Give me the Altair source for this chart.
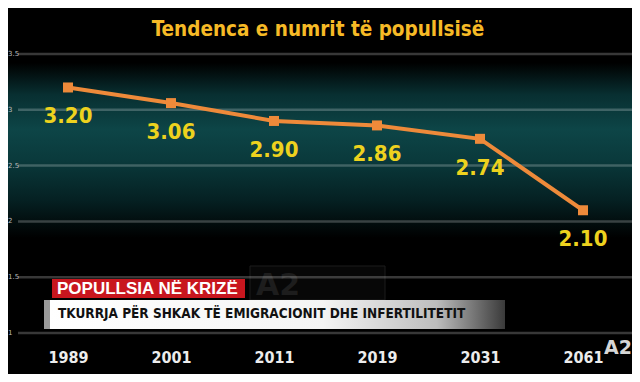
import altair as alt
import pandas as pd

years = ["1989", "2001", "2011", "2019", "2031", "2061"]
values = [3.20, 3.06, 2.90, 2.86, 2.74, 2.10]
grid_values = [1.0, 1.5, 2.0, 2.5, 3.0, 3.5]
title_text = "Tendenca e numrit të popullsisë"
tag_text = "POPULLSIA NË KRIZË"
banner_text = "TKURRJA PËR SHKAK TË EMIGRACIONIT DHE INFERTILITETIT"
logo_text = "A2"

W, H = 624, 366
NARROW = "DejaVu Sans Condensed"

df = pd.DataFrame({"year": years, "value": values})
grid_df = pd.DataFrame({"g": grid_values})

yscale = alt.Scale(domain=[0.633, 3.912], nice=False, zero=False)

xs = alt.X("year:O", sort=None,
           scale=alt.Scale(type="point", range=[60, 575], padding=0),
           axis=alt.Axis(title=None, orient="bottom", offset=-25, domain=False, ticks=False,
                         tickSize=0, labelPadding=0, labelAngle=0, labelColor="#ececec",
                         labelFont=NARROW, labelFontSize=16, labelFontWeight="bold"))
ys = alt.Y("value:Q", scale=yscale, axis=None)

band = alt.Chart(pd.DataFrame({"a": [0]})).mark_rect(
    fill=alt.Gradient(
        gradient="linear", x1=0, x2=0, y1=0, y2=1,
        stops=[alt.GradientStop(color="#000000", offset=0),
               alt.GradientStop(color="#082f31", offset=0.18),
               alt.GradientStop(color="#0d4547", offset=0.38),
               alt.GradientStop(color="#0a3a3c", offset=0.55),
               alt.GradientStop(color="#052123", offset=0.78),
               alt.GradientStop(color="#000000", offset=1)])
).encode(x=alt.value(0), x2=alt.value(W), y=alt.value(55), y2=alt.value(230))

faint_box = alt.Chart(pd.DataFrame({"a": [0]})).mark_rect(
    fill="#0c0c0c", fillOpacity=0.6, stroke="#1c1c1c", strokeWidth=1).encode(
    x=alt.value(242), x2=alt.value(377), y=alt.value(258), y2=alt.value(292))
faint_logo = alt.Chart(pd.DataFrame({"t": [logo_text]})).mark_text(
    fontSize=30, font="DejaVu Sans", fontWeight="bold", color="#1d1d1d", align="left",
    baseline="middle").encode(x=alt.value(248), y=alt.value(278), text="t:N")

grid = alt.Chart(grid_df).mark_rule(color="#ffffff", opacity=0.22, strokeWidth=2.5).encode(
    y=alt.Y("g:Q", scale=yscale, axis=None), x=alt.value(10), x2=alt.value(W))
grid_labels = alt.Chart(grid_df).mark_text(
    fontSize=7, font="DejaVu Sans", color="#bbbbbb", align="left", baseline="middle"
).encode(y=alt.Y("g:Q", scale=yscale, axis=None), x=alt.value(0),
         text=alt.Text("g:Q", format="~g"))

base = alt.Chart(df)
line = base.mark_line(color="#EE8A3A", strokeWidth=4).encode(x=xs, y=ys)
pts = base.mark_square(size=100, color="#EE8A3A", opacity=1).encode(x=xs, y=ys)
labels = base.mark_text(dy=29, fontSize=22, font=NARROW, fontWeight="bold",
                        color="#EDD21E", baseline="middle").encode(
    x=xs, y=ys, text=alt.Text("value:Q", format=".2f"))

title = alt.Chart(pd.DataFrame({"t": [title_text]})).mark_text(
    fontSize=20.5, font=NARROW, fontWeight="bold", color="#F6BA26", baseline="middle"
).encode(x=alt.value(310), y=alt.value(22), text="t:N")

# lower-third banner
red_box = alt.Chart(pd.DataFrame({"a": [0]})).mark_rect(color="#C8161E").encode(
    x=alt.value(44), x2=alt.value(237), y=alt.value(271), y2=alt.value(290))
red_text = alt.Chart(pd.DataFrame({"t": [tag_text]})).mark_text(
    fontSize=17, font="Liberation Sans, Arial, sans-serif", fontWeight="bold",
    color="#ffffff", align="left", baseline="middle").encode(
    x=alt.value(49), y=alt.value(281), text="t:N")
white_box = alt.Chart(pd.DataFrame({"a": [0]})).mark_rect(
    fill=alt.Gradient(
        gradient="linear", x1=0, x2=1, y1=0, y2=0,
        stops=[alt.GradientStop(color="#ffffff", offset=0),
               alt.GradientStop(color="#f4f4f4", offset=0.6),
               alt.GradientStop(color="#bdbdbd", offset=0.85),
               alt.GradientStop(color="#3a3a3a", offset=1)])
).encode(x=alt.value(42), x2=alt.value(497), y=alt.value(292), y2=alt.value(321))
edge = alt.Chart(pd.DataFrame({"a": [0]})).mark_rect(color="#9a9a9a").encode(
    x=alt.value(36), x2=alt.value(42), y=alt.value(292), y2=alt.value(321))
banner = alt.Chart(pd.DataFrame({"t": [banner_text]})).mark_text(
    fontSize=13.5, font=NARROW, fontWeight="bold", color="#111111", align="left",
    baseline="middle").encode(x=alt.value(50), y=alt.value(306), text="t:N")
logo = alt.Chart(pd.DataFrame({"t": [logo_text]})).mark_text(
    fontSize=19, font="DejaVu Sans", fontWeight="bold", color="#d6d6d6", align="left",
    baseline="middle").encode(x=alt.value(596), y=alt.value(340), text="t:N")

chart = alt.layer(
    band, faint_box, faint_logo, grid, grid_labels, line, pts, labels, title,
    red_box, red_text, white_box, edge, banner, logo
).properties(
    width=W, height=H, background="#000000", padding=0,
    autosize=alt.AutoSizeParams(type="none")
).configure_view(stroke=None, fill="#000000")

chart.save("out.html", embed_options={"renderer": "svg", "actions": False})
